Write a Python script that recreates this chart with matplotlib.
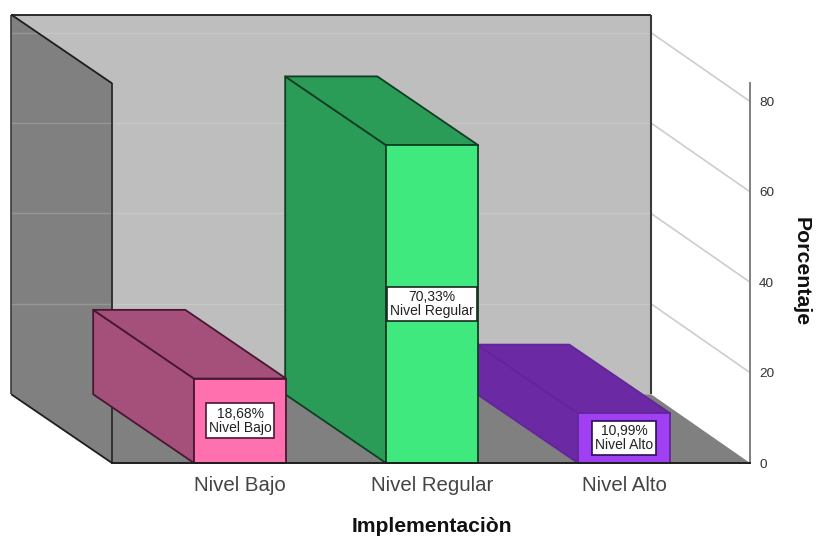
import matplotlib
matplotlib.use("Agg")
import matplotlib.pyplot as plt

plt.rcParams['font.family'] = ['Liberation Sans', 'DejaVu Sans']

categories = ["Nivel Bajo", "Nivel Regular", "Nivel Alto"]
percentages = [18.68, 70.33, 10.99]
y_ticks = [0, 20, 40, 60, 80]

front_colors = ["#FF70AE", "#40E97D", "#A13FF2"]
shade_colors = ["#A5507A", "#2B9C57", "#6B2AA3"]
edge_colors = ["#4A1733", "#0F3F22", "#62259A"]
label_edges = ["#4A1733", "#1A2A20", "#2A1050"]

# 3D look: how far the back of the box is shifted, in data units
depth_x = 0.525
depth_x_right = 0.515
depth_y = 15.2
bar_width = 0.48

x_min, x_max = -0.667, 2.656
y_min, y_max = 0, 84


def polygon(ax, xs, ys, color, edge="none", lw=0, z=1):
    ax.fill(xs, ys, facecolor=color, edgecolor=edge, linewidth=lw,
            zorder=z, clip_on=False, joinstyle="round")


def line(ax, xs, ys, color, lw, z):
    ax.plot(xs, ys, color=color, linewidth=lw, zorder=z, clip_on=False,
            solid_capstyle="butt")


def draw_walls(ax):
    back_l, back_r = x_min - depth_x, x_max - depth_x_right
    back_top = y_max + depth_y

    polygon(ax, [back_l, back_r, back_r, back_l],
            [depth_y, depth_y, back_top, back_top], "#BEBEBE", z=1)
    polygon(ax, [back_l, x_min, x_min, back_l],
            [back_top, y_max, 0, depth_y], "#808080", z=1.1)
    polygon(ax, [back_l, back_r, x_max, x_min],
            [depth_y, depth_y, 0, 0], "#808080", z=1.2)

    # grid runs along the back wall, crosses the side wall and comes forward to the axis
    for t in y_ticks[1:]:
        h = t + depth_y
        x_cross = x_min
        if h > y_max:
            x_cross = back_l + (back_top - h) / depth_y * depth_x
        line(ax, [x_cross, back_r], [h, h], "#C8C8C8", 1.0, 1.15)
        line(ax, [back_l, x_cross], [h, h], "#969696", 1.0, 1.15)
        line(ax, [back_r, x_max], [h, t], "#CDCDCD", 1.2, 1.15)

    line(ax, [back_l, back_r], [back_top, back_top], "#1E1E1E", 1.3, 1.3)
    line(ax, [back_r, back_r], [depth_y, back_top], "#3A3A3A", 1.5, 1.3)
    line(ax, [back_l, back_l], [depth_y, back_top], "#3A3A3A", 1.2, 1.3)
    line(ax, [back_l, x_min], [back_top, y_max], "#1E1E1E", 1.3, 1.3)
    line(ax, [x_min, x_min], [0, y_max], "#2A2A2A", 1.3, 1.3)
    line(ax, [back_l, x_min], [depth_y, 0], "#1E1E1E", 1.3, 1.3)


def draw_box(ax, x, value, front, shade, edge, label_edge, z):
    left = x - bar_width / 2
    right = x + bar_width / 2

    polygon(ax, [left, left - depth_x, left - depth_x, left],
            [0, depth_y, value + depth_y, value], shade, edge, 1.3, z)
    polygon(ax, [left, left - depth_x, right - depth_x, right],
            [value, value + depth_y, value + depth_y, value], shade, edge, 1.3, z)
    ax.bar(x, value, width=bar_width, color=front, edgecolor=edge,
           linewidth=1.3, zorder=z + 0.1, clip_on=False)

    label = f"{value:.2f}".replace(".", ",") + "%\n" + categories[int(x)]
    ax.text(x, value / 2, label, ha="center", va="center", fontsize=10,
            color="#222222", linespacing=1.05, zorder=z + 0.2,
            bbox=dict(boxstyle="square,pad=0.22", facecolor="white",
                      edgecolor=label_edge, linewidth=1.2))


fig = plt.figure(figsize=(8.16, 5.38), dpi=100, facecolor="white")
ax = fig.add_axes([112 / 816, 1 - 463 / 538, (750 - 112) / 816, 84 * 4.52 / 538])
ax.patch.set_visible(False)
ax.set_xlim(x_min, x_max)
ax.set_ylim(y_min, y_max)

draw_walls(ax)

positions = list(range(len(categories)))
for i in reversed(positions):
    draw_box(ax, positions[i], percentages[i], front_colors[i], shade_colors[i],
             edge_colors[i], label_edges[i], 3 + (len(categories) - i))

for side in ["top", "left"]:
    ax.spines[side].set_visible(False)
ax.spines["right"].set_color("#808080")
ax.spines["right"].set_linewidth(1.4)
ax.spines["bottom"].set_color("#1E1E1E")
ax.spines["bottom"].set_linewidth(1.4)
ax.spines["bottom"].set_zorder(10)

ax.yaxis.tick_right()
ax.set_yticks(y_ticks)
ax.tick_params(axis="y", length=0, pad=6.5, labelsize=9.7, labelcolor="#333333")
ax.set_xticks(positions)
ax.set_xticklabels(categories)
ax.tick_params(axis="x", length=0, pad=9.5, labelsize=14.7, labelcolor="#444444")

ax.set_xlabel("Implementaciòn", fontsize=15.2, fontweight="bold", color="#111111")
ax.xaxis.set_label_coords((432 - 112) / 638, -(526 - 463) / (84 * 4.52), transform=ax.transAxes)
ax.xaxis.label.set_va("center")
ax.yaxis.set_label_position("right")
ax.set_ylabel("Porcentaje", fontsize=15.3, fontweight="bold", color="#111111",
              rotation=270, va="center", ha="center")
ax.yaxis.set_label_coords((801 - 112) / 638, (463 - 272) / (84 * 4.52), transform=ax.transAxes)

fig.savefig("out.png", dpi=100)
